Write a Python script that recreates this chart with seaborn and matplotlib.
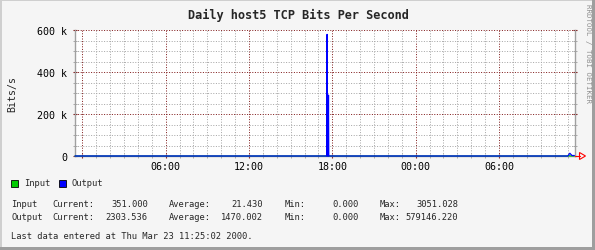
import matplotlib
matplotlib.use("Agg")
import matplotlib.pyplot as plt
import seaborn as sns
import numpy as np
import pandas as pd
from matplotlib.lines import Line2D
from matplotlib.patches import Rectangle, Polygon
from matplotlib.ticker import MultipleLocator, FixedLocator

# ---------------- data ----------------
title = "Daily host5 TCP Bits Per Second"
ylabel = "Bits/s"
side_text = "RRDTOOL / TOBI OETIKER"

# hours since the first midnight shown
input_hours = [-0.53, 17.60, 17.62, 17.64, 34.95, 35.05, 35.15, 35.42]
input_values = [0, 0, 3051.028, 0, 0, 1500, 351.0, 351.0]

output_hours = [-0.53, 17.60, 17.62, 17.64, 17.70, 17.72, 17.74, 34.95, 35.10, 35.25, 35.42]
output_values = [0, 0, 579146.22, 0, 0, 290000, 0, 0, 13000, 2303.536, 2303.536]

xtick_hours = [0, 6, 12, 18, 24, 30]
xtick_labels = ["", "06:00", "12:00", "18:00", "00:00", "06:00"]
ytick_values = [0, 200000, 400000, 600000]
ytick_labels = ["0", "200 k", "400 k", "600 k"]

legend_names = ["Input", "Output"]
legend_colors = ["#00cc00", "#0000ff"]
stat_rows = [
    ["Input", "Current:", "351.000", "Average:", "21.430", "Min:", "0.000", "Max:", "3051.028"],
    ["Output", "Current:", "2303.536", "Average:", "1470.002", "Min:", "0.000", "Max:", "579146.220"],
]
last_line = "Last data entered at Thu Mar 23 11:25:02 2000."

# ---------------- style ----------------
sns.set_style("white")
plt.rcParams["font.family"] = ["DejaVu Sans Mono"]

W, H = 595, 251
BG = "#f5f5f5"
MAJ = "#821e1e"
MIN = "#a8a8a8"
AXC = "#a0a0a0"

def P(x, y):
    return (x / W, 1 - y / H)

fig = plt.figure(figsize=(W / 100, H / 100), dpi=100, facecolor=BG)
ax = fig.add_axes([75 / W, 94 / H, 500 / W, 126 / H])
ax.set_facecolor("white")

df_in = pd.DataFrame({"h": input_hours, "v": input_values})
df_out = pd.DataFrame({"h": output_hours, "v": output_values})
sns.lineplot(data=df_in, x="h", y="v", color=legend_colors[0], lw=0.9,
             estimator=None, sort=False, ax=ax, zorder=3)
sns.lineplot(data=df_out, x="h", y="v", color=legend_colors[1], lw=0.9,
             estimator=None, sort=False, ax=ax, zorder=4)
for ln in ax.lines:
    ln.set_clip_on(False)

ax.set_xlim(-0.53, 35.47)
ax.set_ylim(0, 600000)
ax.set_xlabel("")
ax.set_ylabel("")

ax.xaxis.set_major_locator(FixedLocator(xtick_hours))
ax.set_xticklabels(xtick_labels)
ax.xaxis.set_minor_locator(MultipleLocator(1))
ax.yaxis.set_major_locator(FixedLocator(ytick_values))
ax.set_yticklabels(ytick_labels)
ax.yaxis.set_minor_locator(MultipleLocator(50000))

ax.grid(which="minor", color=MIN, lw=0.72, ls=(0, (1, 1.6)))
ax.grid(which="major", color=MAJ, lw=0.72, ls=(0, (1, 1.6)))
ax.set_axisbelow(True)

ax.tick_params(which="major", axis="both", direction="inout", length=3.5, width=0.8,
               color=MAJ, labelsize=7.2, labelcolor="black", right=True, left=True, bottom=True)
ax.tick_params(which="minor", axis="both", direction="inout", length=2.5, width=0.7,
               color=MIN, right=True, left=True, bottom=True)
ax.tick_params(axis="y", pad=4)
ax.tick_params(axis="x", pad=2)

for s in ["left", "right"]:
    ax.spines[s].set_color(AXC)
    ax.spines[s].set_linewidth(1)
ax.spines["top"].set_visible(False)
ax.spines["bottom"].set_color(AXC)
ax.spines["bottom"].set_linewidth(1)
ax.spines["bottom"].set_zorder(1)

# arrow at the end of x axis
fig.add_artist(Line2D([P(575, 0)[0], P(580, 0)[0]], [P(0, 157)[1]] * 2,
                      transform=fig.transFigure, color="red", lw=0.8))
fig.add_artist(Polygon([P(579.5, 153.5), P(585.5, 157), P(579.5, 160.5)], closed=True,
                       fill=False, edgecolor="red", lw=0.8, transform=fig.transFigure))

# title, labels
fig.text(*P(298, 15), title, ha="center", va="center", fontsize=8.6, fontweight="bold")
fig.text(*P(12, 94), ylabel, rotation=90, ha="center", va="center", fontsize=7.2)
fig.text(*P(588, 53), side_text, rotation=270, ha="center", va="center", fontsize=5.3, color="#909090")

# legend
sq_x = [11, 59]
txt_x = [24, 71]
for name, col, sx, tx in zip(legend_names, legend_colors, sq_x, txt_x):
    fig.add_artist(Rectangle(P(sx, 187.5), 7 / W, 7 / H, transform=fig.transFigure,
                             facecolor=col, edgecolor="black", lw=0.6))
    fig.text(*P(tx, 184), name, ha="left", va="center", fontsize=6.3)

# stats
label_x = [11, 52.3, None, 169.3, None, 285, None, 380, None]
value_end = [None, None, 147.7, None, 263.3, None, 358.3, None, None]
row_y = [204.3, 217.7]
for row, yy in zip(stat_rows, row_y):
    for i, tok in enumerate(row):
        if i == 8:
            fig.text(*P(458.3, yy), tok, ha="right", va="center", fontsize=6.3)
        elif label_x[i] is not None:
            fig.text(*P(label_x[i], yy), tok, ha="left", va="center", fontsize=6.3)
        else:
            fig.text(*P(value_end[i], yy), tok, ha="right", va="center", fontsize=6.3)

fig.text(*P(10.7, 236.7), last_line, ha="left", va="center", fontsize=6.3)

# frame shading
fig.add_artist(Rectangle((0, 1 - 2 / H), 1, 2 / H, transform=fig.transFigure, color="#cfcfcf", lw=0))
fig.add_artist(Rectangle((0, 0), 2 / W, 1, transform=fig.transFigure, color="#cfcfcf", lw=0))
fig.add_artist(Rectangle((1 - 3 / W, 0), 3 / W, 1, transform=fig.transFigure, color="#9e9e9e", lw=0))
fig.add_artist(Rectangle((0, 0), 1, 3 / H, transform=fig.transFigure, color="#9e9e9e", lw=0))

fig.savefig("out.png", dpi=100, facecolor=BG)
